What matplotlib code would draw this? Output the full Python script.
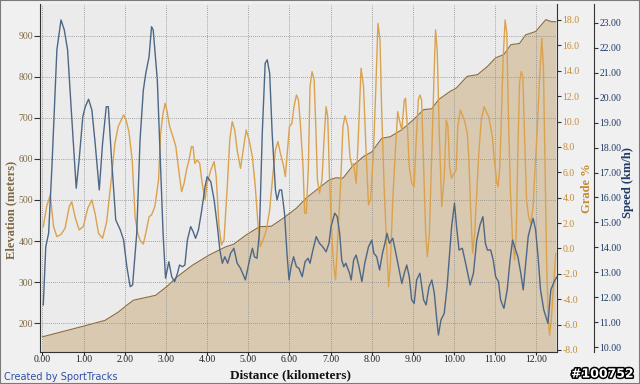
import matplotlib
matplotlib.use("Agg")
import matplotlib.pyplot as plt
import matplotlib.patheffects as pe
from matplotlib.ticker import FormatStrFormatter

plt.rcParams['font.family'] = ['Liberation Serif', 'DejaVu Serif']

# ---------------- data ----------------
elev_km = [0.0, 0.5, 1.0, 1.52, 1.84, 2.05, 2.21, 2.48, 2.75, 3.03, 3.27, 3.64, 4.05, 4.45,
           4.64, 4.95, 5.27, 5.56, 5.84, 6.17, 6.41, 6.65, 6.97, 7.13, 7.30, 7.52, 7.80,
           8.00, 8.24, 8.45, 8.73, 9.01, 9.26, 9.46, 9.62, 9.90, 10.05, 10.32, 10.57,
           10.81, 11.01, 11.21, 11.38, 11.59, 11.74, 11.98, 12.23, 12.36, 12.47]
elev_m = [167, 180, 193, 207, 227, 244, 256, 262, 268, 290, 313, 341, 366, 386,
          392, 415, 435, 436, 455, 480, 505, 524, 549, 554, 553, 581, 606,
          617, 650, 654, 671, 695, 720, 722, 744, 764, 772, 801, 805,
          825, 846, 854, 878, 881, 902, 910, 939, 934, 934]

grade_km = [0.02, 0.10, 0.19, 0.27, 0.35, 0.45, 0.55, 0.65, 0.71, 0.80, 0.89, 0.99, 1.10, 1.20,
            1.28, 1.36, 1.46, 1.56, 1.67, 1.76, 1.84, 1.97, 2.03, 2.10, 2.18, 2.25, 2.32,
            2.38, 2.45, 2.51, 2.59, 2.65, 2.73, 2.82, 2.87, 2.93, 2.98, 3.02, 3.09, 3.17,
            3.24, 3.32, 3.38, 3.44, 3.50, 3.56, 3.62, 3.66, 3.70, 3.76, 3.82, 3.88, 3.95,
            4.00, 4.09, 4.17, 4.22, 4.29, 4.35, 4.41, 4.49, 4.55, 4.61, 4.67, 4.73, 4.81,
            4.89, 4.95, 5.02, 5.10, 5.17, 5.24, 5.29, 5.36, 5.44, 5.52, 5.60, 5.66, 5.72,
            5.78, 5.86, 5.90, 5.96, 6.00, 6.06, 6.11, 6.17, 6.22, 6.27, 6.33, 6.37, 6.41,
            6.46, 6.50, 6.55, 6.60, 6.64, 6.68, 6.73, 6.79, 6.84, 6.89, 6.93, 6.97, 7.02,
            7.07, 7.12, 7.18, 7.24, 7.30, 7.35, 7.42, 7.47, 7.52, 7.56, 7.62, 7.67, 7.74,
            7.80, 7.86, 7.92, 7.97, 8.04, 8.10, 8.15, 8.20, 8.24, 8.30, 8.37, 8.41, 8.45,
            8.51, 8.57, 8.63, 8.67, 8.73, 8.79, 8.82, 8.87, 8.91, 8.97, 9.03, 9.08, 9.13,
            9.17, 9.21, 9.26, 9.31, 9.35, 9.40, 9.46, 9.52, 9.55, 9.59, 9.64, 9.70, 9.76,
            9.81, 9.85, 9.89, 9.94, 10.00, 10.05, 10.09, 10.15, 10.20, 10.26, 10.32, 10.36,
            10.40, 10.45, 10.50, 10.55, 10.60, 10.66, 10.73, 10.78, 10.84, 10.88, 10.93,
            10.97, 11.04, 11.07, 11.11, 11.15, 11.19, 11.24, 11.28, 11.32, 11.37, 11.42,
            11.47, 11.51, 11.55, 11.59, 11.63, 11.67, 11.71, 11.76, 11.81, 11.86, 11.92,
            11.96, 12.02, 12.07, 12.13, 12.17, 12.21, 12.25, 12.29, 12.32, 12.36, 12.41, 12.47]
grade_pct = [1.72, 3.29, 4.21, 1.72, 0.93, 1.1, 1.6, 3.29, 3.68, 2.4, 1.46, 1.72, 3.16, 3.82,
             2.72, 1.2, 0.8, 2.1, 5.4, 8.29, 9.6, 10.52, 10.13, 9.2, 6.96, 2.5, 1.1,
             0.6, 0.35, 1.2, 2.5, 2.64, 3.29, 5.4, 9.07, 10.65, 11.44, 10.91, 9.6, 8.81,
             8.02, 5.92, 4.47, 5.13, 6.18, 6.97, 8.02, 8.02, 6.7, 6.97, 6.7, 5.13, 3.82,
             5.13, 6.18, 6.84, 5.66, 1.72, 0.27, 0.67, 4.87, 8.55, 9.99, 9.33, 7.76, 6.31,
             8.02, 9.33, 8.55, 7.23, 4.87, 1.72, 0.14, 0.67, 1.46, 3.03, 5.92, 7.76, 8.42,
             7.5, 6.45, 5.66, 8.02, 9.6, 9.86, 11.17, 12.09, 11.7, 9.6, 6.44, 2.77, 2.77,
             6.44, 12.75, 13.93, 13.27, 9.6, 5.4, 4.35, 5.4, 8.55, 11.17, 10.38, 5.92, 1.72,
             -1.17, -2.48, 1.2, 4.87, 9.6, 10.44, 9.6, 7.23, 6.44, 6.7, 5.13, 8.55, 14.2,
             12.75, 7.76, 3.43, 3.82, 7.5, 12.75, 17.74, 16.43, 10.91, 4.87, -0.38, -3.01, -1.43,
             3.82, 7.5, 10.78, 10.12, 9.33, 11.7, 11.83, 9.33, 6.44, 5.13, 4.87, 8.55, 11.7,
             12.09, 11.7, 6.44, 1.2, -0.65, 1.2, 7.76, 14.33, 17.22, 15.64, 9.07, 3.29, 5.66,
             10.12, 9.6, 6.44, 5.53, 5.92, 6.18, 9.6, 10.91, 10.52, 9.99, 9.07, 6.97,
             3.29, -0.38, 1.2, 4.35, 7.5, 10.12, 11.17, 10.78, 10.38, 9.73, 8.81,
             7.23, 5.13, 4.87, 6.44, 10.38, 14.86, 18.0, 16.96, 10.38, 4.35, 0.67,
             -0.91, 1.2, 7.76, 13.02, 13.93, 13.54, 9.07, 3.82, 2.5, 1.98, 3.29,
             5.92, 9.33, 13.02, 16.56, 14.33, 6.44, -1.43, -5.64, -6.82, -5.64, -3.27, -0.38]

speed_km = [0.02, 0.08, 0.15, 0.23, 0.35, 0.45, 0.53, 0.61, 0.71, 0.82, 0.89, 0.98, 1.04, 1.12,
            1.20, 1.28, 1.38, 1.46, 1.55, 1.60, 1.68, 1.78, 1.89, 1.97, 2.05, 2.13, 2.19,
            2.29, 2.37, 2.45, 2.51, 2.59, 2.65, 2.69, 2.79, 2.87, 2.93, 2.99, 3.07, 3.14,
            3.21, 3.28, 3.33, 3.40, 3.46, 3.52, 3.60, 3.66, 3.72, 3.79, 3.87, 3.95, 4.00,
            4.09, 4.17, 4.25, 4.31, 4.37, 4.43, 4.50, 4.57, 4.65, 4.73, 4.81, 4.93, 5.03,
            5.10, 5.15, 5.21, 5.27, 5.34, 5.41, 5.46, 5.52, 5.58, 5.66, 5.70, 5.76, 5.81,
            5.88, 5.94, 5.99, 6.04, 6.10, 6.17, 6.23, 6.31, 6.38, 6.45, 6.50, 6.57, 6.65,
            6.73, 6.81, 6.89, 6.96, 7.01, 7.10, 7.16, 7.22, 7.27, 7.32, 7.37, 7.46, 7.50,
            7.56, 7.62, 7.69, 7.76, 7.83, 7.92, 8.00, 8.05, 8.12, 8.19, 8.26, 8.32, 8.37,
            8.43, 8.51, 8.57, 8.65, 8.73, 8.79, 8.85, 8.91, 8.97, 9.03, 9.09, 9.17, 9.26,
            9.32, 9.39, 9.46, 9.52, 9.58, 9.62, 9.68, 9.76, 9.83, 9.89, 9.94, 10.01, 10.06,
            10.12, 10.20, 10.28, 10.39, 10.47, 10.55, 10.63, 10.70, 10.76, 10.81, 10.89,
            10.95, 11.01, 11.08, 11.13, 11.21, 11.29, 11.36, 11.42, 11.47, 11.55, 11.62,
            11.68, 11.74, 11.80, 11.86, 11.92, 11.98, 12.04, 12.10, 12.18, 12.28, 12.35,
            12.43, 12.50]
speed_kmh = [11.69, 14.02, 14.57, 17.24, 21.92, 23.12, 22.72, 21.92, 19.24, 16.37, 17.5, 19.24,
             19.64, 19.94, 19.51, 18.17, 16.3, 18.17, 19.64, 19.64, 17.5, 15.1, 14.7, 14.3,
             13.22, 12.42, 12.49, 14.56, 18.3, 20.3, 20.98, 21.65, 22.85, 22.72, 20.71,
             17.24, 14.56, 12.76, 13.42, 12.82, 12.62, 12.96, 13.29, 13.22, 13.29, 14.29,
             14.83, 14.63, 14.36, 14.7, 15.5, 16.43, 16.83, 16.63, 15.9, 14.83, 13.89,
             13.36, 13.62, 13.36, 13.76, 13.96, 13.36, 13.16, 12.69, 13.49, 13.96, 13.62,
             13.56, 14.56, 18.58, 21.38, 21.52, 20.98, 18.58, 16.3, 15.9, 16.3, 16.3,
             15.37, 13.76, 12.69, 13.22, 13.62, 13.22, 13.16, 12.82, 13.42, 13.56, 13.36,
             13.89, 14.43, 14.16, 14.02, 13.82, 14.16, 14.83, 15.37, 15.23, 14.56, 13.49,
             13.22, 13.36, 12.96, 12.69, 13.49, 13.69, 13.22, 12.62, 13.36, 14.02, 14.29,
             13.76, 13.62, 13.09, 13.76, 14.16, 14.56, 14.16, 14.36, 13.89, 13.22, 12.55,
             12.96, 13.29, 12.82, 11.89, 11.75, 12.69, 12.96, 11.89, 11.69, 12.42, 12.69,
             12.15, 11.08, 10.48, 11.08, 11.35, 12.42, 13.76, 14.83, 15.77, 14.83, 13.89,
             13.96, 13.36, 12.49, 12.96, 14.29, 14.9, 15.23, 14.16, 13.89, 13.89, 13.49,
             12.82, 12.62, 11.89, 11.55, 12.29, 13.49, 14.29, 14.02, 13.62, 12.96, 12.29,
             13.36, 14.43, 14.83, 15.16, 14.7, 13.62, 12.29, 11.48, 10.95, 12.29, 12.62,
             12.82]

x_ticks = list(range(0, 13))
elev_ticks = [200, 300, 400, 500, 600, 700, 800, 900]
grade_ticks = [-8, -6, -4, -2, 0, 2, 4, 6, 8, 10, 12, 14, 16, 18]
speed_ticks = list(range(10, 24))

# ---------------- styles ----------------
FIG_BG = '#F0F0F0'
AX_BG = '#EBEBEB'
ELEV_FILL = '#D8C9B0'
ELEV_LINE = '#8C6B3C'
GRADE_COL = '#DBA24E'
SPEED_COL = '#4D6787'
ELEV_TXT = '#7E6A44'
GRADE_TXT = '#C58A35'
SPEED_TXT = '#1E3A66'

W, H = 640, 384
fig = plt.figure(figsize=(6.4, 3.84), dpi=100, facecolor=FIG_BG)
L, R, T, B = 40, 557, 4, 352
ax = fig.add_axes([L / W, 1 - B / H, (R - L) / W, (B - T) / H])
ax.set_facecolor(AX_BG)
ax2 = ax.twinx()
ax3 = ax.twinx()

# elevation
ax.set_xlim(-0.06, 12.5)
ax.set_ylim(130, 977)
ax.fill_between(elev_km, elev_m, 130, color=ELEV_FILL, lw=0, zorder=1)
ax.plot(elev_km, elev_m, color=ELEV_LINE, lw=0.8, zorder=2)
ax.set_axisbelow(False)
ax.grid(True, color='#8A8A8A', linestyle=(0, (1, 1.5)), linewidth=0.6, zorder=3)

# grade
ax2.set_ylim(-8.16, 19.26)
ax2.plot(grade_km, grade_pct, color=GRADE_COL, lw=1.0)

# speed
ax3.set_ylim(9.8, 23.76)
ax3.plot(speed_km, speed_kmh, color=SPEED_COL, lw=1.0)
ax3.spines['right'].set_position(('axes', (594 - L) / (R - L)))

for a in (ax, ax2, ax3):
    a.spines['top'].set_visible(False)
for a in (ax2, ax3):
    a.spines['left'].set_visible(False)
    a.spines['bottom'].set_visible(False)
ax.spines['right'].set_visible(False)
ax.spines['left'].set_color('#333333')
ax.spines['bottom'].set_color('#333333')
ax2.spines['right'].set_color('#333333')
ax3.spines['right'].set_color('#333333')

ax.set_xticks(x_ticks)
ax.xaxis.set_major_formatter(FormatStrFormatter('%.2f'))
ax.set_yticks(elev_ticks)
ax.tick_params(axis='x', labelsize=7, colors='#222222', length=2, pad=0.5)
ax.tick_params(axis='y', labelsize=7, colors='#333333', labelcolor=ELEV_TXT, length=4, pad=1)
ax2.set_yticks(grade_ticks)
ax2.yaxis.set_major_formatter(FormatStrFormatter('%.1f'))
ax2.tick_params(axis='y', labelsize=7, colors='#333333', labelcolor=GRADE_TXT, length=3, pad=1)
ax3.set_yticks(speed_ticks)
ax3.yaxis.set_major_formatter(FormatStrFormatter('%.2f'))
ax3.tick_params(axis='y', labelsize=7, colors='#333333', labelcolor=SPEED_TXT, length=3, pad=1)

fig.text(11 / W, 1 - 210 / H, 'Elevation (meters)', rotation=90, color=ELEV_TXT,
         ha='center', va='center', fontsize=9, fontweight='bold')
fig.text(587 / W, 1 - 188 / H, 'Grade %', rotation=90, color=GRADE_TXT,
         ha='center', va='center', fontsize=9, fontweight='bold')
fig.text(628 / W, 1 - 183 / H, 'Speed (km/h)', rotation=90, color=SPEED_TXT,
         ha='center', va='center', fontsize=9, fontweight='bold')
fig.text(290 / W, 1 - 375 / H, 'Distance (kilometers)', color='#111111',
         ha='center', va='center', fontsize=9.5, fontweight='bold')

fig.text(4 / W, 1 - 377 / H, 'Created by SportTracks', color='#2F4FA8', fontsize=7,
         family=['DejaVu Sans'], ha='left', va='center')
fig.text(634 / W, 1 - 374 / H, '#100752', color='white', fontsize=9, fontweight='bold',
         family=['DejaVu Sans'], ha='right', va='center',
         path_effects=[pe.withStroke(linewidth=2.2, foreground='black')])

# figure border
fig.patches.append(plt.Rectangle((0, 0), 1, 1, transform=fig.transFigure, fill=False,
                                 edgecolor='#7A7A7A', linewidth=1.5))

fig.savefig('out.png', dpi=100, facecolor=FIG_BG)
